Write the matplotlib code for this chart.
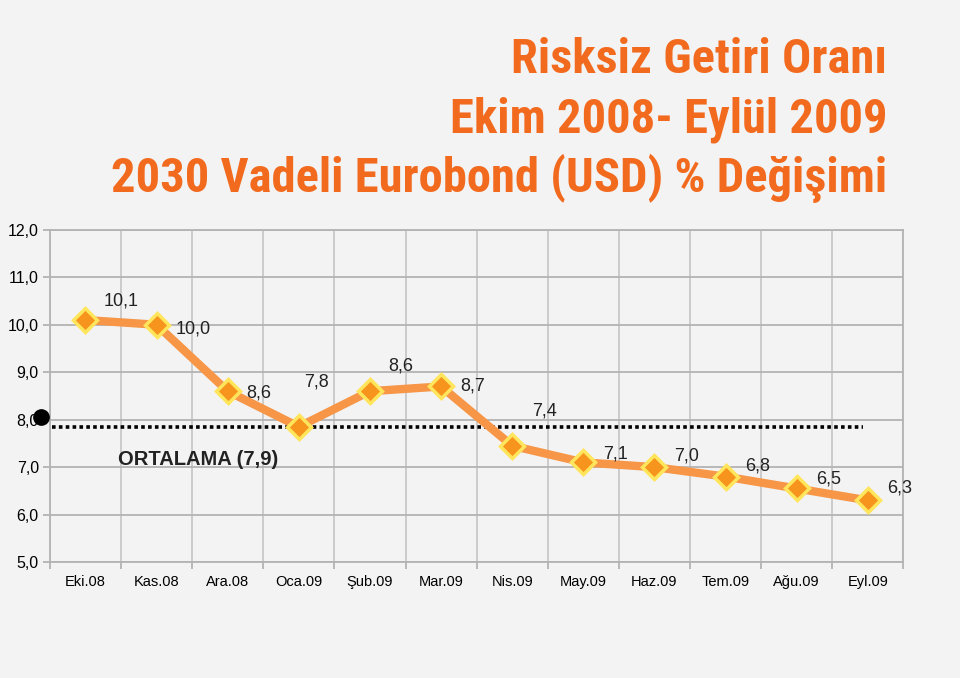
import matplotlib
matplotlib.use("Agg")
import matplotlib.pyplot as plt
import numpy as np

# data
months = ["Eki.08", "Kas.08", "Ara.08", "Oca.09", "Şub.09", "Mar.09",
          "Nis.09", "May.09", "Haz.09", "Tem.09", "Ağu.09", "Eyl.09"]
values = [10.1, 10.0, 8.6, 7.85, 8.6, 8.7, 7.45, 7.1, 7.0, 6.8, 6.55, 6.3]
labels = ["10,1", "10,0", "8,6", "7,8", "8,6", "8,7", "7,4", "7,1", "7,0", "6,8", "6,5", "6,3"]
avg_value = 7.85
avg_label = "ORTALAMA (7,9)"
yticks = [5, 6, 7, 8, 9, 10, 11, 12]
titles = ["Risksiz Getiri Oranı", "Ekim 2008- Eylül 2009", "2030 Vadeli Eurobond (USD) % Değişimi"]

# label offsets in points (dx, dy)
offsets = [(26, 14), (26, -3), (22, -1), (13, 32), (22, 18), (23, 0),
           (23, 25), (23, 6), (23, 8), (23, 8), (23, 7), (23, 9)]

BG = "#f3f3f3"
ORANGE = "#f79646"
TITLE_C = "#f26a1e"
GRID = "#b3b3b3"

plt.rcParams["font.family"] = ["Liberation Sans", "DejaVu Sans"]

fig = plt.figure(figsize=(9.6, 6.78), dpi=100, facecolor=BG)
ax = fig.add_axes([0.052, 0.171, 0.889, 0.49], facecolor=BG)

x = np.arange(len(months))
ax.plot(x, values, color=ORANGE, lw=6, solid_joinstyle="round", zorder=3)
ax.plot(x, values, ls="none", marker="D", ms=12, mfc="#f7941d", mec="#ffe55c",
        mew=2.5, zorder=4)
for xi, v, t, (dx, dy) in zip(x, values, labels, offsets):
    ax.annotate(t, (xi, v), xytext=(dx, dy), textcoords="offset points",
                ha="center", va="center", fontsize=13, color="#222222", zorder=5)

# average line
ax.plot([-0.47, 10.93], [avg_value, avg_value], color="black", lw=2.6,
        ls=(0, (1, 0.9)), zorder=2)
ax.text(1.58, 7.17, avg_label, ha="center", va="center", fontsize=14.5,
        fontweight="bold", color="#222222")
ax.plot([-0.62], [8.06], "o", color="black", ms=11, clip_on=False, zorder=6)

ax.set_xlim(-0.5, len(months) - 0.5)
ax.set_ylim(5, 12)
ax.set_yticks(yticks)
ax.set_yticklabels([f"{t},0" for t in yticks], fontsize=11.5)
ax.set_xticks(x)
ax.set_xticklabels(months, fontsize=10.5)
ax.set_xticks(np.arange(-0.5, len(months)), minor=True)
ax.tick_params(axis="x", which="major", length=0, pad=9)
ax.tick_params(axis="x", which="minor", length=5, color=GRID, width=1.3)
ax.tick_params(axis="y", length=5, color=GRID, width=1.3, pad=3)
ax.grid(True, axis="y", color=GRID, lw=1.3)
ax.grid(True, axis="x", which="minor", color="#c8c8c8", lw=1.3)
for s in ax.spines.values():
    s.set_color(GRID)
    s.set_linewidth(1.3)

title_font = ["Roboto Condensed", "Liberation Sans", "DejaVu Sans"]
for i, t in enumerate(titles):
    fig.text(0.924, 0.911 - i * 0.087, t, ha="right", va="center", fontsize=35,
             fontweight="bold", color=TITLE_C, family=title_font)

fig.savefig("out.png", dpi=100, facecolor=BG)
